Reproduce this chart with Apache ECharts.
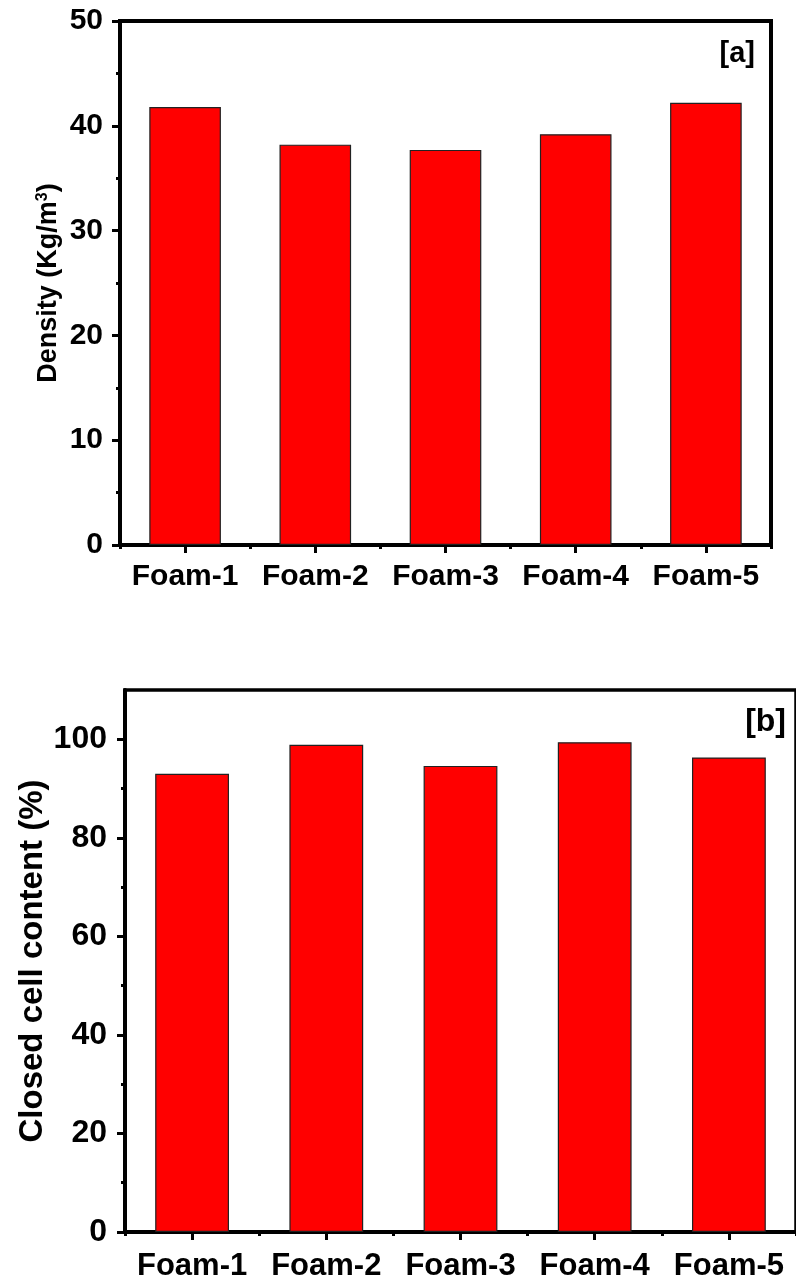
<!DOCTYPE html>
<html>
<head>
<meta charset="utf-8">
<script src="https://cdn.jsdelivr.net/npm/echarts@6/dist/echarts.min.js"></script>
<style>
html,body{margin:0;padding:0;background:#fff;}
#c{width:796px;height:1282px;}
</style>
</head>
<body>
<div id="c"></div>
<script>
const categories = ['Foam-1', 'Foam-2', 'Foam-3', 'Foam-4', 'Foam-5'];
const density = [41.8, 38.2, 37.7, 39.2, 42.2];
const closedCell = [93.0, 98.9, 94.6, 99.4, 96.3];
const densityTicks = { min: 0, max: 50, interval: 10 };
const closedRange = { min: 0, max: 110 };
const closedMajorTicks = [0, 20, 40, 60, 80, 100];
const closedMinorTicks = [10, 30, 50, 70, 90];

const FONT = '"Liberation Sans", Arial, sans-serif';
const chart = echarts.init(document.getElementById('c'), null, { renderer: 'canvas' });

function majorX(gridIndex, fs, margin) {
  return {
    type: 'category', gridIndex, data: categories, position: 'bottom',
    axisLine: { show: true, lineStyle: { color: '#000', width: 4 } },
    axisTick: { show: true, alignWithLabel: true, length: 8, lineStyle: { color: '#000', width: 3 } },
    axisLabel: { color: '#000', fontFamily: FONT, fontWeight: 'bold', fontSize: fs, margin, interval: 0 },
    splitLine: { show: false }
  };
}
function minorX(gridIndex) {
  return {
    type: 'category', gridIndex, data: categories, position: 'bottom',
    axisLine: { show: false },
    axisTick: { show: true, length: 4, lineStyle: { color: '#000', width: 3 } },
    axisLabel: { show: false },
    splitLine: { show: false }
  };
}
function nameStyle(nameFs) {
  return { color: '#000', fontFamily: FONT, fontWeight: 'bold', fontSize: nameFs,
    rich: { sup: { fontSize: Math.round(nameFs * 0.6), fontFamily: FONT, fontWeight: 'bold', color: '#000', verticalAlign: 'top', padding: [0, 0, 10, 0] } } };
}

const option = {
  animation: false,
  backgroundColor: '#fff',
  title: [
    { text: '[a]', right: 36, top: 34, textStyle: { color: '#000', fontFamily: FONT, fontWeight: 'bold', fontSize: 29 } },
    { text: '[b]', right: 5, top: 701, textStyle: { color: '#000', fontFamily: FONT, fontWeight: 'bold', fontSize: 32 } }
  ],
  grid: [
    { left: 120, top: 21, width: 651, height: 524, show: true, borderColor: '#000', borderWidth: 4, containLabel: false },
    { left: 125, top: 690, width: 672, height: 542, show: true, borderColor: '#000', borderWidth: 3.5, containLabel: false }
  ],
  xAxis: [
    majorX(0, 30, 17),
    minorX(0),
    majorX(1, 31, 19),
    minorX(1)
  ],
  yAxis: [
    {
      type: 'value', gridIndex: 0, min: densityTicks.min, max: densityTicks.max, interval: densityTicks.interval,
      name: 'Density (Kg/m{sup|3})', nameLocation: 'middle', nameGap: 58, nameMoveOverlap: false, nameTextStyle: nameStyle(27),
      axisLine: { show: true, lineStyle: { color: '#000', width: 4 } },
      axisTick: { show: true, length: 8, lineStyle: { color: '#000', width: 3 } },
      minorTick: { show: true, splitNumber: 2, length: 4, lineStyle: { color: '#000', width: 3 } },
      axisLabel: { color: '#000', fontFamily: FONT, fontWeight: 'bold', fontSize: 30, margin: 17 },
      splitLine: { show: false }, minorSplitLine: { show: false }
    },
    {
      type: 'value', gridIndex: 1, min: closedRange.min, max: closedRange.max,
      name: 'Closed cell content (%)', nameLocation: 'middle', nameGap: 76, nameMoveOverlap: false, nameTextStyle: nameStyle(33),
      axisLine: { show: true, lineStyle: { color: '#000', width: 4 } },
      axisTick: { show: true, length: 8, customValues: closedMajorTicks, lineStyle: { color: '#000', width: 3 } },
      axisLabel: { color: '#000', fontFamily: FONT, fontWeight: 'bold', fontSize: 32, margin: 18, customValues: closedMajorTicks },
      splitLine: { show: false }
    },
    {
      type: 'value', gridIndex: 1, min: closedRange.min, max: closedRange.max, position: 'left', offset: 0,
      axisLine: { show: false },
      axisTick: { show: true, length: 4, customValues: closedMinorTicks, lineStyle: { color: '#000', width: 3 } },
      axisLabel: { show: false, customValues: closedMinorTicks },
      splitLine: { show: false }
    }
  ],
  series: [
    { type: 'bar', xAxisIndex: 0, yAxisIndex: 0, data: density, barWidth: '55%',
      itemStyle: { color: '#ff0000', borderColor: '#222', borderWidth: 1.2 } },
    { type: 'bar', xAxisIndex: 2, yAxisIndex: 1, data: closedCell, barWidth: '55%',
      itemStyle: { color: '#ff0000', borderColor: '#222', borderWidth: 1.2 } }
  ]
};
chart.setOption(option);
</script>
</body>
</html>
